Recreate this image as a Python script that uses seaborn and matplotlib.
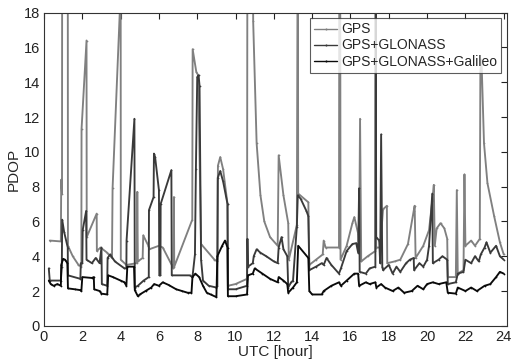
import matplotlib
matplotlib.use("Agg")
import matplotlib.pyplot as plt
import seaborn as sns
import pandas as pd
import numpy as np

# ---------------- data (UTC hour, PDOP) ----------------
gps_t = [0.30, 0.88, 0.90, 0.94, 0.95, 1.24, 1.25, 1.50, 1.80, 1.95,
         1.96, 2.22, 2.23, 2.75, 2.76, 2.95, 3.30, 3.55, 3.58, 3.97,
         3.98, 4.00, 4.01, 4.30, 4.85, 4.87, 4.90, 5.15, 5.18, 5.45,
         5.50, 6.00, 6.20, 6.76, 6.78, 6.80, 7.74, 7.76, 7.95, 8.05,
         8.20, 8.90, 9.05, 9.08, 9.20, 9.35, 9.58, 9.60, 10.00, 10.60,
         10.62, 10.90, 10.92, 11.10, 11.30, 11.50, 11.80, 12.20, 12.25, 12.50,
         12.75, 12.78, 13.20, 13.25, 13.27, 13.80, 13.85, 14.20, 14.55, 14.60,
         14.70, 15.40, 15.42, 15.46, 15.48, 15.80, 16.10, 16.20, 16.40, 16.45,
         16.50, 16.56, 16.90, 17.30, 17.32, 17.34, 17.55, 17.70, 17.90, 17.92,
         18.30, 18.60, 19.00, 19.30, 19.35, 19.40, 19.80, 20.10, 20.30, 20.35,
         20.40, 20.50, 20.70, 20.90, 21.05, 21.08, 21.50, 21.55, 21.60, 21.90,
         21.95, 22.00, 22.30, 22.50, 22.75, 22.78, 22.84, 22.97, 23.15, 23.50,
         23.80, 24.00]
gps_v = [4.9, 4.85, 8.4, 7.6, 25, 25, 4.6, 4.0, 3.5, 3.4,
         11.3, 16.4, 5.1, 6.45, 4.3, 4.5, 4.2, 3.9, 7.9, 18.4,
         25, 25, 3.8, 3.5, 3.6, 7.7, 3.7, 3.9, 5.2, 4.6,
         4.4, 4.6, 4.5, 3.3, 7.4, 3.4, 6.1, 15.9, 14.6, 14.4,
         4.7, 3.8, 3.7, 9.2, 9.7, 9.0, 7.0, 2.3, 2.4, 2.7,
         25, 25, 17.5, 10.5, 7.5, 6.0, 5.1, 4.6, 9.8, 7.5,
         5.9, 3.8, 5.8, 25, 7.6, 7.1, 3.5, 3.8, 4.1, 4.9,
         4.5, 4.5, 25, 25, 3.8, 4.6, 5.9, 6.25, 5.3, 4.6,
         11.9, 3.7, 4.0, 4.3, 25, 4.5, 4.5, 6.7, 6.9, 3.6,
         3.7, 3.8, 4.7, 6.6, 6.9, 3.9, 4.6, 5.5, 7.5, 8.1,
         4.6, 5.6, 5.9, 5.6, 5.0, 2.8, 2.8, 7.8, 3.0, 3.2,
         8.7, 4.6, 4.9, 4.6, 5.0, 14.6, 15.3, 10.5, 8.2, 6.3,
         4.8, 4.1]

glo_t = [0.25, 0.30, 0.88, 0.93, 0.95, 1.05, 1.24, 1.25, 1.90, 1.92,
         2.00, 2.02, 2.20, 2.22, 2.50, 2.70, 2.90, 3.00, 3.02, 3.30,
         3.32, 3.45, 3.70, 4.20, 4.30, 4.31, 4.72, 4.74, 4.90, 5.20,
         5.47, 5.48, 5.72, 5.74, 5.80, 6.00, 6.02, 6.08, 6.09, 6.65,
         6.67, 7.60, 7.75, 7.88, 7.93, 8.00, 8.07, 8.12, 8.20, 8.30,
         8.60, 9.00, 9.05, 9.07, 9.20, 9.35, 9.58, 9.60, 10.00, 10.60,
         10.62, 10.65, 10.90, 10.95, 11.10, 11.30, 11.60, 12.00, 12.20, 12.25,
         12.40, 12.50, 12.70, 12.75, 12.90, 13.00, 13.20, 13.25, 13.40, 13.70,
         13.80, 13.85, 14.20, 14.50, 14.60, 14.75, 15.00, 15.40, 15.50, 15.80,
         16.10, 16.30, 16.40, 16.45, 16.48, 16.80, 17.00, 17.30, 17.32, 17.34,
         17.50, 17.55, 17.60, 17.66, 17.70, 18.00, 18.20, 18.40, 18.60, 18.90,
         19.10, 19.30, 19.32, 19.60, 19.80, 20.00, 20.10, 20.27, 20.30, 20.60,
         20.80, 21.05, 21.08, 21.50, 21.60, 21.90, 22.00, 22.30, 22.50, 22.70,
         22.80, 23.00, 23.10, 23.30, 23.60, 23.80, 24.00]
glo_v = [3.3, 2.6, 2.6, 3.4, 6.1, 5.4, 4.5, 2.9, 2.7, 3.6,
         3.6, 5.5, 6.6, 3.8, 3.6, 3.9, 3.6, 4.5, 2.4, 2.3,
         3.9, 4.1, 3.7, 3.3, 3.3, 4.9, 11.9, 2.2, 2.3, 2.6,
         2.8, 6.65, 7.4, 9.9, 9.7, 7.8, 2.9, 2.9, 7.0, 8.95,
         2.9, 2.9, 2.8, 4.1, 9.0, 14.3, 14.4, 13.8, 3.8, 2.6,
         2.3, 2.2, 2.3, 8.5, 8.9, 8.3, 7.0, 2.1, 2.1, 2.3,
         5.0, 3.4, 3.6, 4.0, 4.4, 4.2, 4.0, 3.7, 3.6, 4.5,
         5.1, 4.4, 4.0, 2.2, 2.5, 2.6, 5.7, 7.5, 7.3, 6.6,
         6.3, 3.2, 3.4, 3.6, 3.5, 3.9, 3.5, 3.0, 3.3, 4.3,
         4.7, 4.75, 4.2, 7.9, 3.1, 3.0, 3.3, 3.4, 25, 5.1,
         4.9, 3.6, 11.0, 3.4, 3.2, 3.5, 3.0, 3.4, 3.1, 3.6,
         3.8, 3.9, 3.2, 3.6, 3.4, 3.8, 4.6, 7.6, 3.6, 3.8,
         4.0, 3.8, 2.4, 2.5, 3.0, 3.1, 3.8, 3.6, 4.0, 3.7,
         4.1, 4.5, 4.8, 4.2, 4.6, 4.0, 3.8]

gal_t = [0.25, 0.35, 0.50, 0.70, 0.88, 0.90, 1.00, 1.10, 1.22, 1.25,
         1.60, 1.90, 1.95, 2.00, 2.50, 2.60, 2.62, 2.90, 3.00, 3.30,
         3.35, 3.60, 4.00, 4.20, 4.30, 4.35, 4.70, 4.74, 4.90, 5.00,
         5.30, 5.60, 5.75, 6.00, 6.20, 6.50, 6.90, 7.20, 7.50, 7.70,
         7.75, 7.90, 8.10, 8.30, 8.50, 8.70, 9.00, 9.05, 9.30, 9.45,
         9.58, 9.60, 10.00, 10.60, 10.65, 10.90, 11.00, 11.40, 11.80, 12.20,
         12.25, 12.50, 12.70, 12.75, 13.00, 13.20, 13.27, 13.80, 13.85, 14.00,
         14.50, 14.60, 15.00, 15.40, 15.50, 15.80, 16.20, 16.40, 16.45, 16.80,
         17.00, 17.30, 17.35, 17.60, 17.80, 18.20, 18.50, 18.80, 19.20, 19.50,
         19.80, 20.00, 20.30, 20.60, 21.00, 21.08, 21.50, 21.60, 22.00, 22.30,
         22.60, 23.00, 23.30, 23.60, 23.80, 24.00]
gal_v = [2.6, 2.4, 2.3, 2.4, 2.3, 3.5, 3.85, 3.8, 3.6, 2.15,
         2.1, 2.05, 2.0, 2.8, 2.75, 2.8, 2.1, 2.0, 1.85, 1.8,
         2.9, 2.8, 2.6, 2.5, 2.3, 3.4, 3.4, 2.05, 1.7, 1.8,
         2.0, 2.2, 2.4, 2.3, 2.5, 2.35, 2.1, 2.0, 1.9, 1.9,
         2.8, 3.0, 2.8, 2.3, 1.9, 1.8, 1.65, 4.0, 4.6, 4.9,
         4.5, 1.7, 1.7, 1.8, 2.9, 3.0, 3.3, 3.0, 2.7, 2.5,
         2.8, 2.6, 2.4, 1.9, 2.2, 2.5, 4.6, 3.9, 2.0, 1.8,
         1.8, 2.0, 2.3, 2.5, 2.3, 2.6, 3.0, 3.0, 2.3, 2.5,
         2.4, 2.5, 2.2, 2.4, 2.2, 2.0, 2.2, 1.9, 2.0, 2.3,
         2.1, 2.4, 2.5, 2.4, 2.5, 1.9, 1.85, 2.2, 2.0, 2.2,
         2.0, 2.3, 2.4, 2.8, 3.1, 3.0]

series_names = ["GPS", "GPS+GLONASS", "GPS+GLONASS+Galileo"]
x_ticks = list(range(0, 25, 2))
y_ticks = list(range(0, 19, 2))

# ---------------- plot ----------------
sns.set_style("white")
plt.rcParams["font.family"] = ["Liberation Sans", "DejaVu Sans"]

fig = plt.figure(figsize=(5.14, 3.62), dpi=100)
ax = fig.add_axes([0.0856, 0.100, 0.900, 0.865])

colors = {"GPS": "#808080", "GPS+GLONASS": "#3a3a3a", "GPS+GLONASS+Galileo": "#0a0a0a"}
data = {"GPS": (gps_t, gps_v), "GPS+GLONASS": (glo_t, glo_v),
        "GPS+GLONASS+Galileo": (gal_t, gal_v)}

for i, name in enumerate(series_names):
    t, v = data[name]
    df = pd.DataFrame({"t": t, "v": v})
    sns.lineplot(data=df, x="t", y="v", ax=ax, sort=False, estimator=None,
                 color=colors[name], linewidth=1.35, marker=".",
                 markersize=2.5, markeredgewidth=0, label=name, zorder=2 + i)

ax.set_xlim(0, 24.15)
ax.set_ylim(0, 18)
ax.set_xticks(x_ticks)
ax.set_yticks(y_ticks)
ax.tick_params(direction="in", length=4, width=0.8, labelsize=10.5,
               top=True, right=True, colors="#222222", pad=3)
for s in ax.spines.values():
    s.set_color("#333333")
    s.set_linewidth(0.8)
ax.set_xlabel("UTC [hour]", fontsize=11, labelpad=1)
ax.set_ylabel("PDOP", fontsize=11, labelpad=2)

leg = ax.legend(loc="upper right", fontsize=10, frameon=True, fancybox=False,
                borderpad=0.3, labelspacing=0.15, handlelength=1.6,
                handletextpad=0.3, borderaxespad=0.4)
leg.get_frame().set_edgecolor("#333333")
leg.get_frame().set_linewidth(0.8)
for line in leg.get_lines():
    line.set_linewidth(1.0)
    line.set_markersize(3)

fig.savefig("out.png", dpi=100)
